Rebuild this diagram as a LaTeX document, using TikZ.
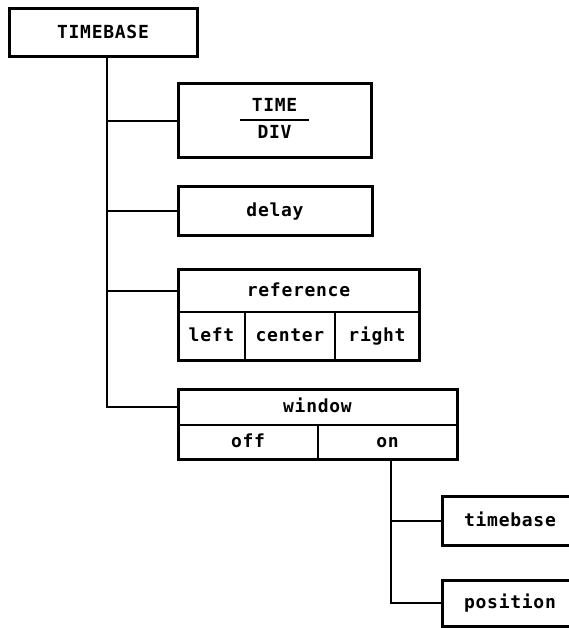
\documentclass[tikz,border=0pt]{standalone}
\usepackage{fontspec}
\newfontfamily\plotfont[LetterSpace=4]{DejaVu Sans Mono Bold}
\usetikzlibrary{fit}
\begin{document}
\begin{tikzpicture}[x=1pt,y=-1pt,
  lbl/.style={font=\plotfont\fontsize{18}{21}\selectfont, inner sep=0pt, outer sep=0pt},
  even/.style={text height=14pt, text depth=3pt},
  box/.style={lbl, draw, line width=3pt},
  cell/.style={lbl, even, draw, line width=1.8pt},
  frame/.style={draw, line width=3pt, inner sep=0pt, outer sep=0pt},
  wire/.style={line width=2pt}]
\useasboundingbox (0,0) rectangle (568,628);
% main box
\node[box, even, minimum width=188pt, minimum height=48pt] (tb) at (103,33) {TIMEBASE};
\coordinate (t0) at (107,57);
% TIME/DIV
\node[box, minimum width=193pt, minimum height=74pt] (td) at (274.5,121)
  {\setlength\tabcolsep{12pt}\renewcommand\arrayrulewidth{1.8pt}\begin{tabular}{c}TIME\\[1pt]\hline\rule{0pt}{18pt}DIV\end{tabular}};
% delay
\node[box, even, minimum width=194pt, minimum height=48pt] (dl) at (275,211) {delay};
% reference
\node[cell, minimum width=241pt, minimum height=43pt] (refh) at (298.5,290.5) {reference};
\node[cell, minimum width=67pt, minimum height=48pt] (refl) at (211.5,336) {left};
\node[cell, minimum width=90pt, minimum height=48pt] (refc) at (290,336) {center};
\node[cell, minimum width=84pt, minimum height=48pt] (refr) at (377,336) {right};
\node[frame, fit=(refh)(refl)(refr)] (refbox) {};
% window
\node[cell, minimum width=279pt, minimum height=36pt] (winh) at (317.5,407) {window};
\node[cell, minimum width=140pt, minimum height=34pt] (woff) at (248,442) {off};
\node[cell, minimum width=139pt, minimum height=34pt] (won) at (387.5,442) {on};
\node[frame, fit=(winh)(woff)(won)] (winbox) {};
\coordinate (w0) at (391,459);
% sub items
\node[box, even, minimum width=136pt, minimum height=49pt] (stb) at (510,520.5) {timebase};
\node[box, even, minimum width=136pt, minimum height=46pt] (spos) at (510,603) {position};
% connectors
\draw[wire] (t0) |- (winh.west);
\draw[wire] (td.west -| t0) -- (td.west);
\draw[wire] (dl.west -| t0) -- (dl.west);
\draw[wire] (refh.west -| t0) -- (refh.west);
\draw[wire] (w0) |- (spos.west);
\draw[wire] (stb.west -| w0) -- (stb.west);
\end{tikzpicture}
\end{document}
